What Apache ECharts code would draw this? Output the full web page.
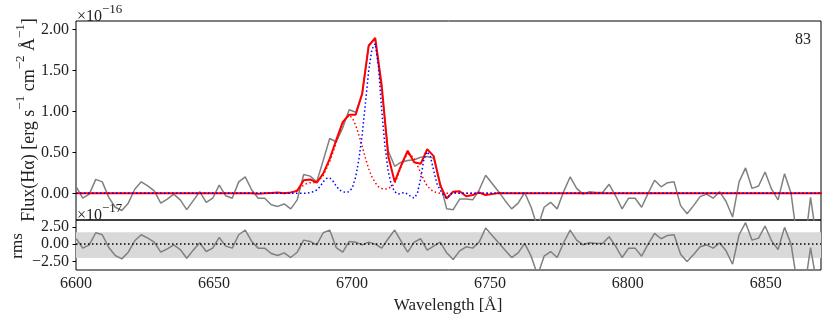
<!DOCTYPE html>
<html>
<head>
<meta charset="utf-8">
<script src="https://cdn.jsdelivr.net/npm/echarts@6.0.0/dist/echarts.min.js"></script>
<style>
html,body{margin:0;padding:0;background:#fff;}
#chart{width:831px;height:324px;}
</style>
</head>
<body>
<div id="chart"></div>
<script>
// spectrum sampling
var waveStart = 6600.1, waveStep = 2.355;
var fluxData = [0.08, -0.06, -0.01, 0.17, 0.14, -0.05, -0.17, -0.21, -0.12, 0.05,
 0.14, 0.09, 0.03, -0.12, -0.07, -0.01, -0.08, -0.20, -0.09, 0.02,
 -0.11, -0.06, 0.10, -0.03, -0.06, 0.14, 0.20, 0.04, -0.06, -0.06,
 -0.14, -0.16, -0.13, -0.19, -0.08, 0.23, 0.21, 0.14, 0.40, 0.67,
 0.63, 0.80, 1.02, 0.99, 1.21, 1.81, 1.89, 1.27, 0.52, 0.33,
 0.38, 0.40, 0.41, 0.44, 0.45, 0.43, 0.13, -0.19, -0.20, -0.07,
 -0.07, -0.08, 0.04, 0.22, 0.12, 0.02, -0.09, -0.19, -0.12, 0.01,
 -0.17, -0.42, -0.17, -0.11, -0.19, 0.02, 0.20, 0.06, -0.01, 0.02,
 0.01, 0.01, 0.11, -0.03, -0.19, -0.06, -0.06, -0.17, 0.00, 0.16,
 0.08, 0.13, 0.14, -0.15, -0.25, -0.15, -0.04, -0.01, -0.06, 0.02,
 -0.10, -0.29, 0.14, 0.31, 0.06, 0.09, 0.26, 0.05, -0.08, 0.24,
 0.00, -0.60, -0.70, -0.05, -0.60, -0.50];
var modelTotal = [0, 0, 0, 0, 0, 0, 0, 0, 0, 0,
 0, 0, 0, 0, 0, 0, 0, 0, 0, 0,
 0, 0, 0, 0, 0, 0, 0, 0, -0.005, 0,
 0.005, 0.01, 0, 0.01, 0.03, 0.16, 0.17, 0.13, 0.24, 0.42,
 0.65, 0.87, 0.96, 0.96, 1.22, 1.80, 1.90, 1.32, 0.46, 0.14,
 0.34, 0.52, 0.38, 0.36, 0.54, 0.455, 0.10, -0.065, 0.02, 0.025,
 -0.035, -0.02, 0.01, -0.02, -0.01, 0.005, 0, 0, 0, 0,
 0, 0, 0, 0, 0, 0, 0, 0, 0, 0,
 0, 0, 0, 0, 0, 0, 0, 0, 0, 0,
 0, 0, 0, 0, 0, 0, 0, 0, 0, 0,
 0, 0, 0, 0, 0, 0, 0, 0, 0, 0,
 0, 0, 0, 0, 0, 0];
var residData = [0.78, -0.58, -0.10, 1.65, 1.36, -0.49, -1.65, -2.14, -1.17, 0.49,
 1.36, 0.87, 0.29, -1.17, -0.68, -0.10, -0.78, -2.04, -0.87, 0.19,
 -1.07, -0.58, 0.97, -0.29, -0.58, 1.36, 2.04, 0.39, -0.58, -0.58,
 -1.36, -1.65, -1.26, -1.94, -1.17, 0.58, 0.39, -0.10, 1.65, 2.04,
 -0.49, -1.17, 0.39, 0.29, -0.10, 0.29, 0.00, -0.58, 0.78, 2.04,
 0.39, -1.17, 0.29, 0.78, -0.87, -0.29, 0.29, -1.26, -2.23, -0.97,
 -0.39, -0.58, 0.30, 2.33, 1.26, 0.19, -0.87, -1.94, -1.26, 0.10,
 -1.75, -4.50, -1.75, -1.07, -1.94, 0.20, 2.04, 0.58, -0.10, 0.19,
 0.10, 0.10, 1.07, -0.29, -1.94, -0.58, -0.58, -1.75, 0.00, 1.55,
 0.78, 1.26, 1.36, -1.46, -2.52, -1.50, -0.39, -0.10, -0.58, 0.19,
 -0.97, -2.91, 1.36, 3.11, 0.58, 0.87, 2.62, 0.49, -0.78, 2.43,
 0.00, -6.0, -7.0, -0.50, -6.0, -5.0];

// gaussian components, sampled every half step from sample 30
var compFirst = 30;
var broadComp = [0, 0, 0, 0, 0, 0.005, 0.01, 0.02, 0.04, 0.07,
 0.10, 0.12, 0.13, 0.13, 0.14, 0.17, 0.22, 0.30, 0.39, 0.50,
 0.62, 0.74, 0.85, 0.92, 0.95, 0.92, 0.83, 0.71, 0.57, 0.43,
 0.30, 0.20, 0.13, 0.08, 0.06, 0.05, 0.06, 0.08, 0.12, 0.22,
 0.33, 0.43, 0.48, 0.47, 0.42, 0.34, 0.25, 0.16, 0.09, 0.05,
 0.02, 0.01, 0, 0, 0, 0, 0, 0, 0, 0, 0];
var narrowComp = [0, 0, 0, 0, 0, 0, 0, 0, 0, 0,
 0, 0, 0.01, 0.02, 0.04, 0.08, 0.14, 0.18, 0.19, 0.15,
 0.09, 0.04, 0.02, 0.01, 0.02, 0.07, 0.20, 0.42, 0.72, 1.10,
 1.50, 1.76, 1.83, 1.55, 1.02, 0.58, 0.27, 0.10, 0.02, -0.01,
 0, 0.01, -0.01, -0.04, -0.06, 0, 0.18, 0.42, 0.51, 0.45,
 0.28, 0.12, 0.04, -0.02, -0.06, -0.02, 0.01, 0.01, 0, 0, 0];

var rmsBand = [-2.0, 1.74];
var fluxTicks = [0, 0.5, 1, 1.5, 2];
var residTicks = [-2.5, 0, 2.5];
var waveTicks = [6600, 6650, 6700, 6750, 6800, 6850];
var waveMin = 6600, waveMax = 6870;

function pairs(vals) {
    var out = [];
    for (var i = 0; i < vals.length; i++) {
        out.push([waveStart + i * waveStep, vals[i]]);
    }
    return out;
}
function compPairs(vals) {
    var out = [[waveMin, 0]];
    for (var i = 0; i < vals.length; i++) {
        out.push([waveStart + (compFirst + i / 2) * waveStep, vals[i]]);
    }
    out.push([waveMax, 0]);
    return out;
}
function tickFmt(v) {
    var s = Math.abs(v).toFixed(2);
    return v < 0 ? '\u2212' + s : s;
}

var serif = 'Liberation Serif';
var dotted = [1.5, 2.5];
var chart = echarts.init(document.getElementById('chart'));

var option = {
    animation: false,
    backgroundColor: '#fff',
    textStyle: {fontFamily: serif},
    grid: [
        {left: 76, top: 21, width: 745, height: 199, show: true, borderColor: '#000', borderWidth: 1},
        {left: 76, top: 220, width: 745, height: 50, show: true, borderColor: '#000', borderWidth: 1}
    ],
    xAxis: [
        {type: 'value', gridIndex: 0, min: waveMin, max: waveMax,
         axisLine: {show: false}, axisTick: {show: false}, axisLabel: {show: false}, splitLine: {show: false}},
        {type: 'value', gridIndex: 1, min: waveMin, max: waveMax,
         axisLine: {show: false},
         axisTick: {show: true, length: 3.5, lineStyle: {color: '#000'}, customValues: waveTicks},
         axisLabel: {show: true, margin: 6, color: '#222', fontSize: 16, fontFamily: serif, customValues: waveTicks,
                     formatter: function (v) { return String(v); }},
         splitLine: {show: false}}
    ],
    yAxis: [
        {type: 'value', gridIndex: 0, min: -0.326, max: 2.105,
         axisLine: {show: false},
         axisTick: {show: true, length: 3.5, lineStyle: {color: '#000'}, customValues: fluxTicks},
         axisLabel: {show: true, margin: 7, color: '#222', fontSize: 16, fontFamily: serif,
                     customValues: fluxTicks, formatter: tickFmt},
         splitLine: {show: false}},
        {type: 'value', gridIndex: 1, min: -3.75, max: 3.5,
         axisLine: {show: false},
         axisTick: {show: true, length: 3.5, lineStyle: {color: '#000'}, customValues: residTicks},
         axisLabel: {show: true, margin: 7, color: '#222', fontSize: 16, fontFamily: serif,
                     customValues: residTicks, formatter: tickFmt},
         splitLine: {show: false}}
    ],
    series: [
        {name: 'data', type: 'line', xAxisIndex: 0, yAxisIndex: 0, data: pairs(fluxData),
         symbol: 'none', clip: true, z: 2, lineStyle: {color: '#808080', width: 1.5}},
        {name: 'model', type: 'line', xAxisIndex: 0, yAxisIndex: 0, data: pairs(modelTotal),
         symbol: 'none', clip: true, z: 3, lineStyle: {color: '#ff0000', width: 2}},
        {name: 'broad', type: 'line', xAxisIndex: 0, yAxisIndex: 0, data: compPairs(broadComp),
         symbol: 'none', clip: true, z: 4, lineStyle: {color: '#ff0000', width: 1.5, type: dotted}},
        {name: 'narrow', type: 'line', xAxisIndex: 0, yAxisIndex: 0, data: compPairs(narrowComp),
         symbol: 'none', clip: true, z: 5, lineStyle: {color: '#0000ff', width: 1.5, type: dotted}},
        {name: 'resid', type: 'line', xAxisIndex: 1, yAxisIndex: 1, data: pairs(residData),
         symbol: 'none', clip: true, z: 3, lineStyle: {color: '#808080', width: 1.5},
         markArea: {silent: true, itemStyle: {color: '#d9d9d9'},
                    data: [[{xAxis: waveMin, yAxis: rmsBand[0]}, {xAxis: waveMax, yAxis: rmsBand[1]}]]},
         markLine: {silent: true, symbol: ['none', 'none'], label: {show: false},
                    lineStyle: {color: '#000', width: 1.5, type: dotted},
                    data: [{yAxis: 0}]}}
    ],
    graphic: [
        {type: 'text', x: 77, y: 3, z: 50, style: {
            text: '{a|\u00d710}{s|\u221216}', verticalAlign: 'top',
            rich: {a: {fontSize: 16, lineHeight: 22, verticalAlign: 'bottom', fontFamily: serif, fill: '#222'},
                   s: {fontSize: 13, lineHeight: 9, verticalAlign: 'top', fontFamily: serif, fill: '#222'}}}},
        {type: 'text', x: 77, y: 202, z: 50, style: {
            text: '{a|\u00d710}{s|\u221217}', verticalAlign: 'top',
            rich: {a: {fontSize: 16, lineHeight: 22, verticalAlign: 'bottom', fontFamily: serif, fill: '#222'},
                   s: {fontSize: 13, lineHeight: 9, verticalAlign: 'top', fontFamily: serif, fill: '#222'}}}},
        {type: 'text', x: 811, y: 40, z: 50, style: {
            text: '83', align: 'right', verticalAlign: 'middle', fontSize: 16, fontFamily: serif, fill: '#222'}},
        {type: 'text', x: 26.5, y: 120, rotation: Math.PI / 2, z: 50, style: {
            text: '{a|Flux(H\u03b1) [erg s}{s|\u22121}{a| cm}{s|\u22122}{a| \u00c5}{s|\u22121}{a|]}',
            align: 'center', verticalAlign: 'middle',
            rich: {a: {fontSize: 18, lineHeight: 24, verticalAlign: 'bottom', fontFamily: serif, fill: '#222'},
                   s: {fontSize: 13, lineHeight: 5, verticalAlign: 'top', fontFamily: serif, fill: '#222'}}}},
        {type: 'text', x: 17.5, y: 246, rotation: Math.PI / 2, z: 50, style: {
            text: 'rms', align: 'center', verticalAlign: 'middle', fontSize: 17, fontFamily: serif, fill: '#222'}},
        {type: 'text', x: 448, y: 306, z: 50, style: {
            text: 'Wavelength [\u00c5]', align: 'center', verticalAlign: 'middle', fontSize: 17, fontFamily: serif, fill: '#222'}}
    ]
};
chart.setOption(option);
</script>
</body>
</html>
